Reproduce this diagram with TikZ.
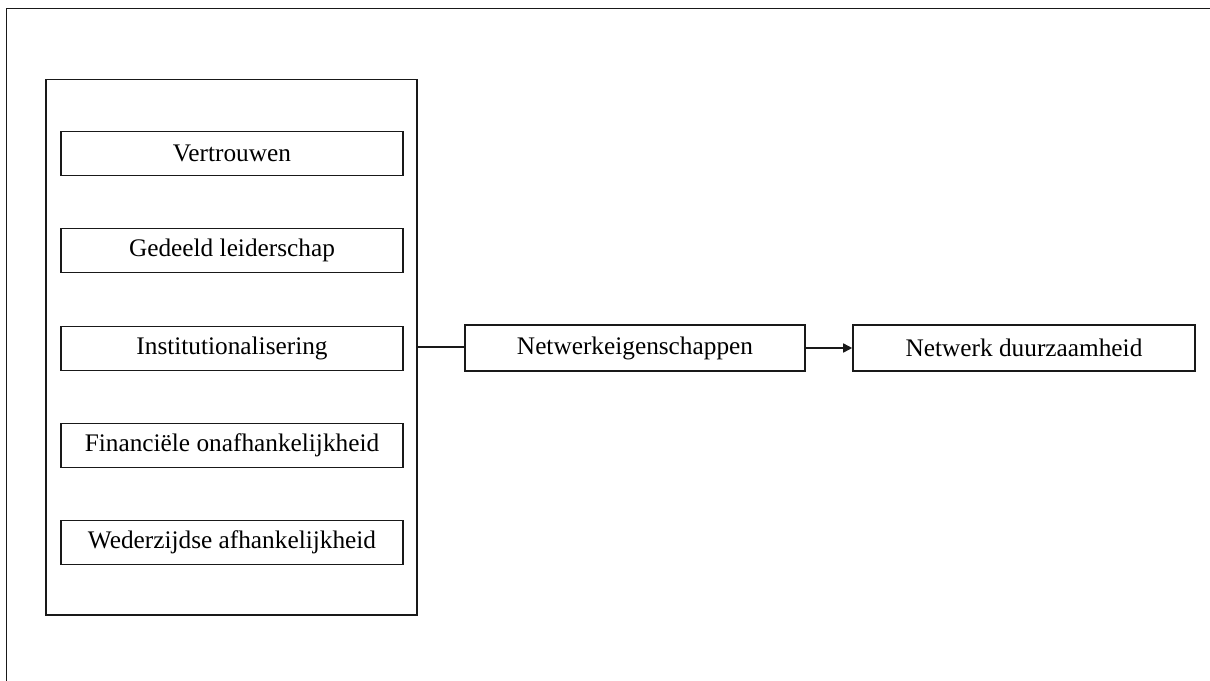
\documentclass[tikz,border=0pt]{standalone}
\usepackage{fontspec}
\setmainfont{Liberation Serif}
\usetikzlibrary{arrows.meta}
\begin{document}
\begin{tikzpicture}[x=1pt,y=-1pt,
  every node/.style={font=\fontsize{25.3}{30}\selectfont},
  box/.style={draw=black!90, line width=1.6pt, inner sep=0pt, minimum height=44pt},
  itembox/.style={box, minimum width=342pt},
  conn/.style={draw=black!90, line width=1.6pt}]
\useasboundingbox (0,0) rectangle (1210,680);
\draw[line width=1.3pt, black!90] (6.5,690) -- (6.5,8.5) -- (1220,8.5);
\node[draw=black!90, line width=1.6pt, inner sep=0pt, minimum width=371pt, minimum height=535.5pt] (big) at (231.5,347.25) {};
\node[itembox] (v) at (232,153.4) {Vertrouwen};
\node[itembox] (g) at (232,250.5) {Gedeeld leiderschap};
\node[itembox] (i) at (232,348.3) {Institutionalisering};
\node[itembox] (f) at (232,445.5) {Financiële onafhankelijkheid};
\node[itembox] (w) at (232,542.5) {Wederzijdse afhankelijkheid};
\node[box, minimum width=340pt, minimum height=46pt] (net) at (635,348) {Netwerkeigenschappen};
\node[box, minimum width=342pt, minimum height=46pt] (duur) at (1024,348) {Netwerk duurzaamheid};
\draw[conn] (big.east) -- (big.east -| net.west);
\draw[conn, -{Triangle[length=9pt,width=9pt]}] (net.east) -- (duur.west);
\end{tikzpicture}
\end{document}
